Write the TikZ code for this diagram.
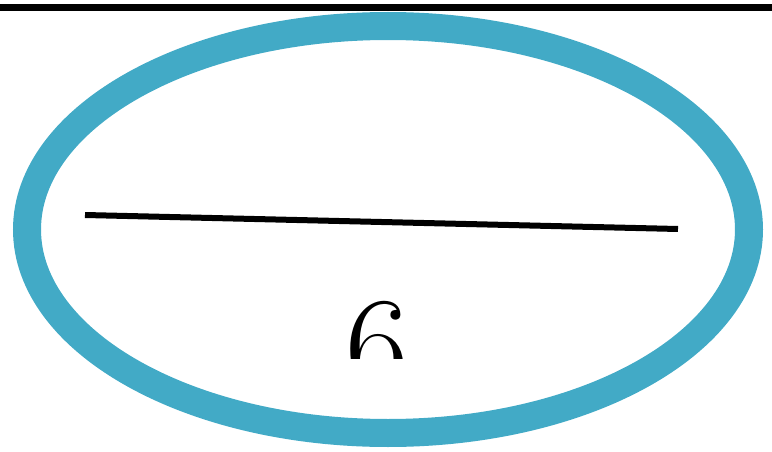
\documentclass[tikz,border=0pt]{standalone}
\definecolor{ringblue}{RGB}{66,170,198}
\begin{document}
\begin{tikzpicture}[
        x=1pt,
        y=-1pt,
        line cap=butt,
        % styles
        ring/.style={draw=ringblue,line width=28pt},
        bar/.style={line width=7pt},
        chord/.style={line width=6pt},
        digit/.style={font=\fontsize{138}{138}\selectfont,inner sep=0pt},
    ]
    \useasboundingbox (0,0) rectangle (772,452);

    % points
    \coordinate (C) at (388,229.5);
    \coordinate (L) at (85,215);
    \coordinate (R) at (678,229);

    % top bar
    \draw[bar] (0,7.5) -- (772,7.5);

    % ellipse
    \draw[ring] (C) ellipse [x radius=361, y radius=203.5];

    % chord
    \draw[chord] (L) -- (R);

    % clipped digit
    \begin{scope}
        \clip (300,280) rectangle (460,358);
        \node[digit,anchor=base] (six) at (377,392) {6};
    \end{scope}
\end{tikzpicture}
\end{document}
